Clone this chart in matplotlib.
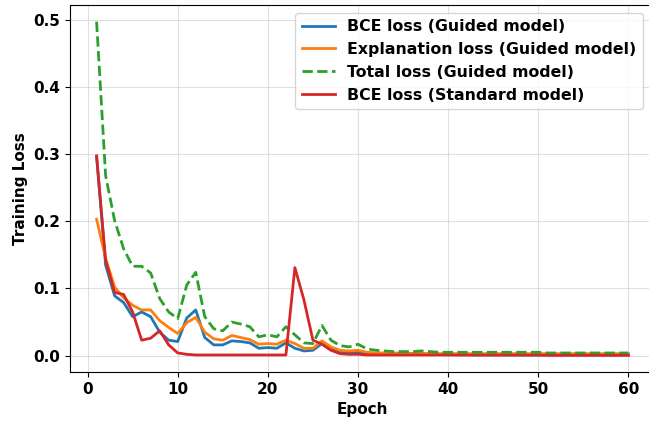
import matplotlib
matplotlib.use("Agg")
import matplotlib.pyplot as plt
import numpy as np

epochs = list(range(1, 61))

bce_guided = [0.297, 0.135, 0.089, 0.079, 0.058, 0.065, 0.058, 0.035, 0.023, 0.021,
              0.056, 0.068, 0.027, 0.016, 0.016, 0.022, 0.021, 0.019, 0.011, 0.012,
              0.011, 0.019, 0.011, 0.007, 0.008, 0.018, 0.009, 0.006, 0.005, 0.005,
              0.003, 0.002, 0.002, 0.002, 0.002, 0.002, 0.002, 0.0015, 0.0015, 0.0015,
              0.0015, 0.0015, 0.0012, 0.0012, 0.0012, 0.0012, 0.0012, 0.001, 0.001, 0.001,
              0.001, 0.001, 0.001, 0.001, 0.001, 0.001, 0.001, 0.001, 0.001, 0.001]

expl_guided = [0.203, 0.145, 0.102, 0.086, 0.075, 0.068, 0.068, 0.052, 0.042, 0.033,
               0.049, 0.057, 0.035, 0.025, 0.023, 0.030, 0.027, 0.024, 0.017, 0.018,
               0.017, 0.023, 0.018, 0.011, 0.011, 0.022, 0.013, 0.008, 0.007, 0.008,
               0.005, 0.004, 0.004, 0.004, 0.0035, 0.0035, 0.0035, 0.003, 0.003, 0.003,
               0.003, 0.003, 0.003, 0.003, 0.003, 0.003, 0.003, 0.003, 0.003, 0.003,
               0.003, 0.003, 0.003, 0.003, 0.003, 0.003, 0.003, 0.003, 0.003, 0.003]

total_guided = [0.497, 0.268, 0.201, 0.159, 0.133, 0.133, 0.123, 0.085, 0.065, 0.055,
                0.105, 0.124, 0.058, 0.040, 0.037, 0.050, 0.047, 0.043, 0.028, 0.031,
                0.028, 0.043, 0.031, 0.019, 0.018, 0.045, 0.023, 0.015, 0.013, 0.017,
                0.010, 0.008, 0.007, 0.006, 0.006, 0.006, 0.007, 0.006, 0.005, 0.005,
                0.005, 0.005, 0.005, 0.005, 0.005, 0.005, 0.005, 0.005, 0.005, 0.005,
                0.004, 0.004, 0.004, 0.004, 0.004, 0.004, 0.004, 0.004, 0.004, 0.004]

bce_standard = [0.297, 0.142, 0.094, 0.091, 0.065, 0.023, 0.026, 0.037, 0.016, 0.004,
                0.002, 0.001, 0.001, 0.001, 0.001, 0.001, 0.001, 0.001, 0.001, 0.001,
                0.001, 0.001, 0.131, 0.083, 0.023, 0.017, 0.008, 0.003, 0.002, 0.002,
                0.001, 0.001, 0.001, 0.001, 0.001, 0.001, 0.001, 0.001, 0.001, 0.001,
                0.0008, 0.0008, 0.0008, 0.0008, 0.0008, 0.0008, 0.0008, 0.0008, 0.0008, 0.0008,
                0.0005, 0.0005, 0.0005, 0.0005, 0.0005, 0.0005, 0.0005, 0.0005, 0.0005, 0.0005]

labels = ["BCE loss (Guided model)", "Explanation loss (Guided model)",
          "Total loss (Guided model)", "BCE loss (Standard model)"]

plt.rcParams['font.family'] = ['DejaVu Sans']
plt.rcParams['font.weight'] = 'bold'

fig = plt.figure(figsize=(6.49, 4.21), dpi=100)
ax = fig.add_axes([70/649, 1-372/421, (655-70)/649, (372-5)/421])

ax.plot(epochs, bce_guided, color='#1f77b4', lw=2, label=labels[0])
ax.plot(epochs, expl_guided, color='#ff7f0e', lw=2, label=labels[1])
ax.plot(epochs, total_guided, color='#2ca02c', lw=2, ls='--', label=labels[2])
ax.plot(epochs, bce_standard, color='#d62728', lw=2, label=labels[3])

ax.set_xticks([0, 10, 20, 30, 40, 50, 60])
ax.set_yticks([0.0, 0.1, 0.2, 0.3, 0.4, 0.5])
ax.grid(True, color='#cccccc', alpha=0.6, lw=0.8)
ax.set_xlabel("Epoch", fontsize=11, fontweight='bold')
ax.set_ylabel("Training Loss", fontsize=11, fontweight='bold')
for t in ax.get_xticklabels() + ax.get_yticklabels():
    t.set_fontweight('bold')
    t.set_fontsize(11)

leg = ax.legend(loc='upper right', bbox_to_anchor=(0.9925, 1.0),
                prop={'weight': 'bold', 'size': 11.3}, handlelength=2.15,
                handletextpad=0.75)

fig.savefig("out.png", dpi=100)
